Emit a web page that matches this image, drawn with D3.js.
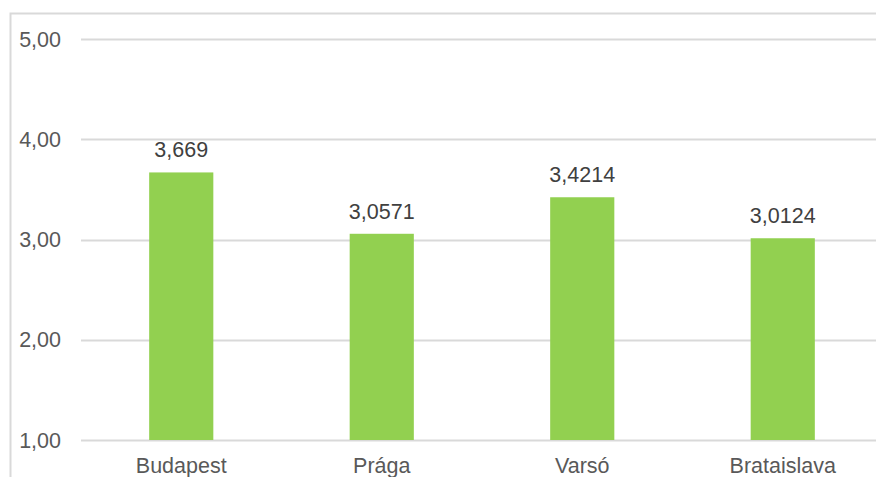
<!DOCTYPE html>
<html>
<head>
<meta charset="utf-8">
<script src="https://cdn.jsdelivr.net/npm/d3@7"></script>
<style>
  body { margin: 0; background: #fff; }
  svg { display: block; font-family: "Liberation Sans", Arial, sans-serif; }
</style>
</head>
<body>
<div id="chart"></div>
<script>
var cities = ['Budapest', 'Prága', 'Varsó', 'Brataislava'];
var values = [3.669, 3.0571, 3.4214, 3.0124];
var labels = ['3,669', '3,0571', '3,4214', '3,0124'];
var yTicks = [1, 2, 3, 4, 5];

var width = 876, height = 477;

var svg = d3.select('#chart').append('svg')
    .attr('width', width)
    .attr('height', height);

// chart frame (runs off the right and bottom edge)
svg.append('rect')
    .attr('x', 10.5).attr('y', 13.5)
    .attr('width', 900).attr('height', 500)
    .attr('fill', '#fff')
    .attr('stroke', '#d9d9d9')
    .attr('stroke-width', 2);

var x = d3.scaleBand()
    .domain(cities)
    .range([81, 883])
    .paddingInner(0.68)
    .paddingOuter(0.34);

var y = d3.scaleLinear()
    .domain([1, 5])
    .range([440, 39]);

// gridlines
svg.append('g').selectAll('line')
    .data(yTicks).enter().append('line')
    .attr('x1', 81).attr('x2', 883)
    .attr('y1', function(d) { return Math.round(y(d)) + 0.5; })
    .attr('y2', function(d) { return Math.round(y(d)) + 0.5; })
    .attr('stroke', '#d9d9d9')
    .attr('stroke-width', 2);

// y tick labels
svg.append('g').selectAll('text')
    .data(yTicks).enter().append('text')
    .attr('x', 61)
    .attr('y', function(d) { return y(d); })
    .attr('dy', '0.35em')
    .attr('text-anchor', 'end')
    .attr('fill', '#595959')
    .style('font-size', '21.5px')
    .text(function(d) { return d3.format('.2f')(d).replace('.', ','); });

// bars
var data = cities.map(function(c, i) { return { city: c, value: values[i], label: labels[i] }; });

svg.append('g').selectAll('rect')
    .data(data).enter().append('rect')
    .attr('x', function(d) { return x(d.city); })
    .attr('width', x.bandwidth())
    .attr('y', function(d) { return y(d.value); })
    .attr('height', function(d) { return y(1) - y(d.value); })
    .attr('fill', '#92d050');

// value labels
svg.append('g').selectAll('text')
    .data(data).enter().append('text')
    .attr('x', function(d) { return x(d.city) + x.bandwidth() / 2; })
    .attr('y', function(d) { return y(d.value) - 15; })
    .attr('text-anchor', 'middle')
    .attr('fill', '#404040')
    .style('font-size', '21.5px')
    .text(function(d) { return d.label; });

// category labels
svg.append('g').selectAll('text')
    .data(cities).enter().append('text')
    .attr('x', function(d) { return x(d) + x.bandwidth() / 2; })
    .attr('y', 473)
    .attr('text-anchor', 'middle')
    .attr('fill', '#595959')
    .style('font-size', '21.5px')
    .text(function(d) { return d; });
</script>
</body>
</html>
